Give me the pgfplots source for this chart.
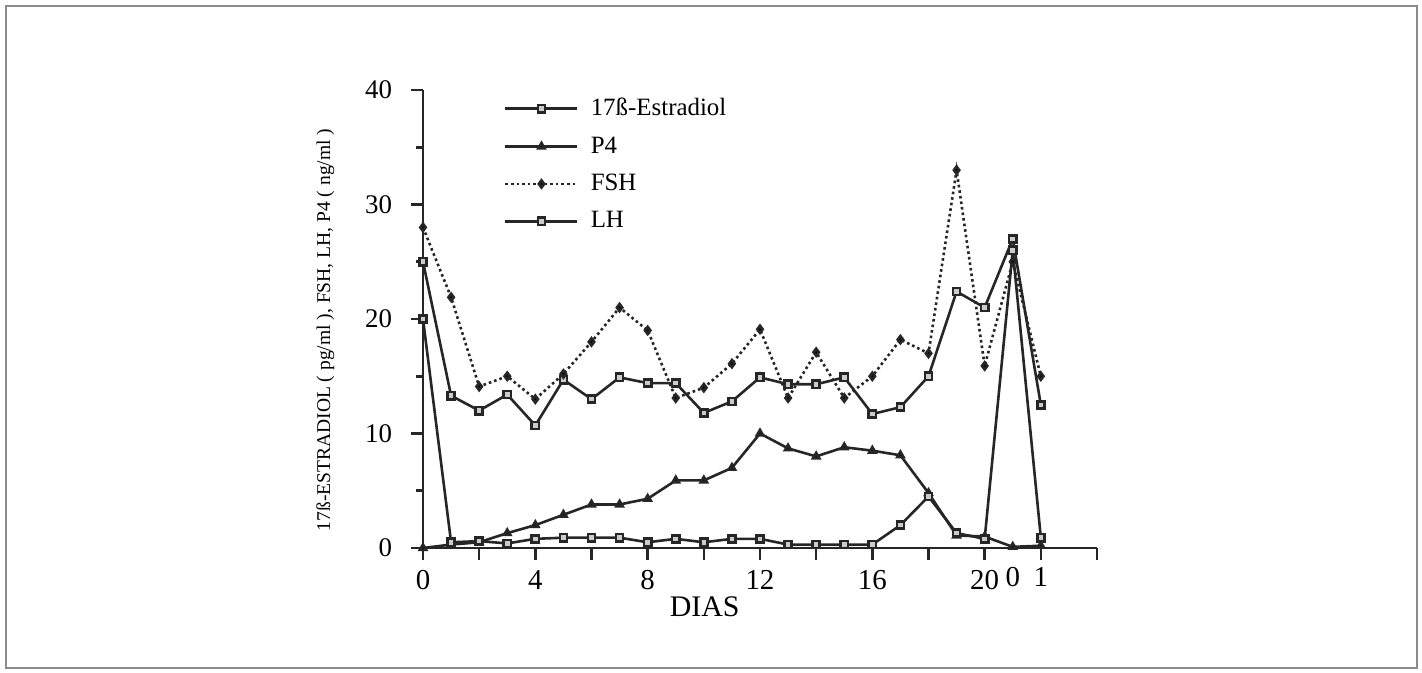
\documentclass[border=0pt]{standalone}
\usepackage{fontspec}
\setmainfont{Liberation Serif}
\usepackage{pgfplots}
\usepackage{pgfplotstable}
\pgfplotsset{compat=1.18}

% day, estradiol, P4, FSH, LH
\pgfplotstableread{
day  e2    pf    fsh   lh
0    25.0  0.0   28.0  20.0
1    13.3  0.3   21.9  0.5
2    12.0  0.5   14.1  0.6
3    13.4  1.3   15.0  0.4
4    10.7  2.0   13.0  0.8
5    14.7  2.9   15.2  0.9
6    13.0  3.8   18.0  0.9
7    14.9  3.8   21.0  0.9
8    14.4  4.3   19.0  0.5
9    14.4  5.9   13.1  0.8
10   11.8  5.9   14.0  0.5
11   12.8  7.0   16.1  0.8
12   14.9  10.0  19.1  0.8
13   14.3  8.7   13.1  0.3
14   14.3  8.0   17.1  0.3
15   14.9  8.8   13.1  0.3
16   11.7  8.5   15.0  0.3
17   12.3  8.1   18.2  2.0
18   15.0  4.8   17.0  4.5
19   22.4  1.1   33.0  1.3
20   21.0  1.0   15.9  0.8
21   27.0  0.1   25.0  26.0
22   12.5  0.2   15.0  0.9
}\hormones

\begin{document}
\begin{tikzpicture}
\useasboundingbox (-211.5bp,-62.5bp) rectangle (499.5bp,274bp);
\draw[black!45, line width=1bp] (-208.5bp,-60bp) rectangle (497bp,271bp);
\begin{axis}[
    scale only axis,
    width=337bp, height=229bp,
    xmin=0, xmax=24, ymin=0, ymax=40,
    axis x line*=bottom, axis y line*=left,
    axis line style={line width=1.3bp, black!85},
    x axis line style={shorten <=-6bp},
    xtick={0,2,...,24},
    xticklabels={0,,4,,8,,12,,16,,20,,},
    extra x ticks={21,22},
    extra x tick labels={0,1},
    extra x tick style={major tick length=0pt},
    ytick={0,10,...,40},
    minor ytick={5,15,25,35},
    tick align=outside,
    major tick length=6bp, minor tick length=3.5bp,
    tick style={line width=1.3bp, black!85},
    /pgf/number format/assume math mode=true,
    xticklabel style={font=\fontsize{14.5}{14.5}\selectfont, yshift=-1.5bp},
    extra x tick style={xticklabel style={yshift=-4.5bp}},
    yticklabel style={font=\fontsize{13.5}{13.5}\selectfont, xshift=-6bp},
    xlabel={DIAS},
    xlabel style={font=\fontsize{15}{15}\selectfont, at={(axis description cs:0.418,-0.129)}, anchor=center},
    ylabel={17ß-ESTRADIOL ( pg/ml ), FSH, LH, P4 ( ng/ml )},
    ylabel style={font=\fontsize{9.8}{9.8}\selectfont, at={(axis description cs:-0.145,0.476)}, anchor=center},
    legend cell align=left,
    legend image code/.code={\draw[mark repeat=2,mark phase=2,#1] plot coordinates {(0bp,0bp)(18bp,0bp)(36bp,0bp)};},
    legend style={draw=none, fill=none, at={(axis description cs:0.111,1.0)}, anchor=north west,
        font=\fontsize{12.5}{12.5}\selectfont, row sep=5bp,
        /tikz/every odd column/.style={column sep=4bp}},
    every axis plot/.append style={line width=1.3bp, black!85, mark size=1.8bp},
]
\addplot[mark=square*, mark options={fill=black!20, solid}] table[x=day, y=e2] {\hormones};
\addlegendentry{17ß-Estradiol}
\addplot[mark=triangle*, mark options={fill=black, solid}] table[x=day, y=pf] {\hormones};
\addlegendentry{P4}
\addplot[dash pattern=on 1.3bp off 1.5bp, mark=diamond*, mark options={fill=black, solid}] table[x=day, y=fsh] {\hormones};
\addlegendentry{FSH}
\addplot[mark=square*, mark options={fill=black!20, solid}] table[x=day, y=lh] {\hormones};
\addlegendentry{LH}
\end{axis}
\end{tikzpicture}
\end{document}
